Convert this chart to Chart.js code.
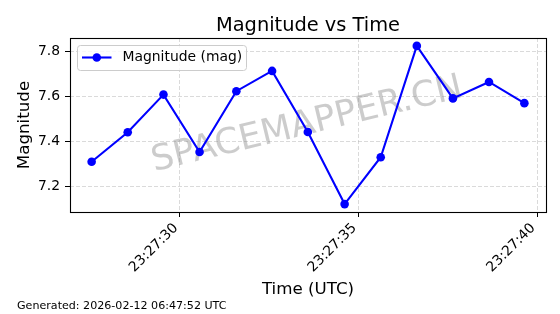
<!DOCTYPE html>
<html><head><meta charset="utf-8">
<script src="https://cdn.jsdelivr.net/npm/chart.js@4"></script>
<style>html,body{margin:0;padding:0;background:#fff}#wrap{width:560px;height:314px}</style>
</head><body><div id="wrap"><canvas id="c" width="560" height="314"></canvas></div>
<script>
// Time = seconds after 23:27:00 UTC
const timeSeconds = [27.53, 28.54, 29.54, 30.55, 31.58, 32.58, 33.58, 34.61, 35.62, 36.63, 37.64, 38.65, 39.64];
const magnitudes  = [7.311, 7.442, 7.609, 7.354, 7.624, 7.714, 7.443, 7.123, 7.331, 7.825, 7.592, 7.665, 7.571];
const xTickValues = [30, 35, 40];
const xTickLabels = ['23:27:30', '23:27:35', '23:27:40'];
const yTickValues = [7.2, 7.4, 7.6, 7.8];
const yTickLabels = ['7.2', '7.4', '7.6', '7.8'];
const seriesLabel = 'Magnitude (mag)';
const titleText = 'Magnitude vs Time';
const xTitle = 'Time (UTC)';
const yTitle = 'Magnitude';
const footerText = 'Generated: 2026-02-12 06:47:52 UTC';
const watermarkText = 'SPACEMAPPER.CN';

const FONT = '"DejaVu Sans", sans-serif';
function range(arr){const mn=Math.min(...arr),mx=Math.max(...arr),m=(mx-mn)*0.05;return [mn-m,mx+m];}
const [xMin,xMax]=range(timeSeconds);
const [yMin,yMax]=range(magnitudes);

const gridCommon = {color:'rgba(176,176,176,0.6)', lineWidth:0.8, tickLength:5, tickColor:'#000', tickWidth:1, tickBorderDash:[], borderDash:[4,2]};
const borderCommon = {display:false, dash:[4,2]};

const decor = {
  id:'decor',
  beforeDatasetsDraw(chart){
    const ctx=chart.ctx, a=chart.chartArea;
    ctx.save();
    ctx.translate((a.left+a.right)/2-1,(a.top+a.bottom)/2);
    ctx.rotate(-13.5*Math.PI/180);
    ctx.font='35.5px '+FONT;
    ctx.fillStyle='rgba(128,128,128,0.4)';
    ctx.textAlign='center';ctx.textBaseline='middle';
    ctx.fillText(watermarkText,0,0);
    ctx.restore();
  },
  afterDraw(chart){
    const ctx=chart.ctx, a=chart.chartArea;
    ctx.save();
    // frame
    ctx.strokeStyle='#000';ctx.lineWidth=1.1;ctx.setLineDash([]);
    ctx.strokeRect(a.left+0.5,a.top+0.5,a.right-a.left,a.bottom-a.top);
    // legend
    const lx=77.5, ly=45.5, lw=169, lh=25, r=3;
    ctx.beginPath();
    ctx.moveTo(lx+r,ly);ctx.lineTo(lx+lw-r,ly);ctx.arcTo(lx+lw,ly,lx+lw,ly+r,r);
    ctx.lineTo(lx+lw,ly+lh-r);ctx.arcTo(lx+lw,ly+lh,lx+lw-r,ly+lh,r);
    ctx.lineTo(lx+r,ly+lh);ctx.arcTo(lx,ly+lh,lx,ly+lh-r,r);
    ctx.lineTo(lx,ly+r);ctx.arcTo(lx,ly,lx+r,ly,r);ctx.closePath();
    ctx.fillStyle='rgba(255,255,255,0.8)';ctx.fill();
    ctx.strokeStyle='#cccccc';ctx.lineWidth=1;ctx.stroke();
    const ds=chart.data.datasets[0];
    const cy=57.5;
    ctx.strokeStyle=ds.borderColor;ctx.lineWidth=ds.borderWidth;
    ctx.beginPath();ctx.moveTo(82,cy);ctx.lineTo(111.5,cy);ctx.stroke();
    ctx.fillStyle=ds.pointBackgroundColor;ctx.beginPath();ctx.arc(96.8,cy,ds.pointRadius,0,Math.PI*2);ctx.fill();
    ctx.fillStyle='#000';ctx.font='13.9px '+FONT;ctx.textAlign='left';ctx.textBaseline='middle';
    ctx.fillText(ds.label,122.5,cy);
    // title
    const cx=(a.left+a.right)/2;
    ctx.font='19.4px '+FONT;ctx.textAlign='center';ctx.textBaseline='alphabetic';
    ctx.fillText(titleText,cx,31);
    // x title
    ctx.font='16.7px '+FONT;
    ctx.fillText(xTitle,cx,294);
    // y title
    ctx.save();ctx.translate(25,(a.top+a.bottom)/2);ctx.rotate(-Math.PI/2);
    ctx.textBaseline='middle';ctx.fillText(yTitle,0,0);ctx.restore();
    // footer
    ctx.font='11.1px '+FONT;ctx.textAlign='left';
    ctx.fillText(footerText,17,309);
    ctx.restore();
  }
};

new Chart(document.getElementById('c'),{
  type:'line',
  data:{datasets:[{
    label:seriesLabel,
    data:timeSeconds.map((t,i)=>({x:t,y:magnitudes[i]})),
    borderColor:'#0000ff',backgroundColor:'#0000ff',borderWidth:2.1,
    pointRadius:4.3,pointHoverRadius:4.3,pointBackgroundColor:'#0000ff',pointBorderWidth:0,
    tension:0,fill:false
  }]},
  options:{
    responsive:false,animation:false,devicePixelRatio:1,
    layout:{padding:{left:0,right:14,top:38,bottom:0}},
    plugins:{legend:{display:false},title:{display:false},tooltip:{enabled:false}},
    scales:{
      x:{type:'linear',min:xMin,max:xMax,
        afterBuildTicks:s=>{s.ticks=xTickValues.map(v=>({value:v}));},
        afterFit:s=>{s.height=102;},
        ticks:{autoSkip:false,maxRotation:45,minRotation:45,padding:3,labelOffset:-4,color:'#000',font:{family:FONT,size:13.9},
          callback:v=>xTickLabels[xTickValues.indexOf(v)]},
        grid:gridCommon,border:borderCommon},
      y:{type:'linear',min:yMin,max:yMax,
        afterBuildTicks:s=>{s.ticks=yTickValues.map(v=>({value:v}));},
        afterFit:s=>{s.width=70;},
        ticks:{padding:5,color:'#000',font:{family:FONT,size:13.9},
          callback:v=>yTickLabels[yTickValues.indexOf(v)]},
        grid:gridCommon,border:borderCommon}
    }
  },
  plugins:[decor]
});
</script></body></html>
